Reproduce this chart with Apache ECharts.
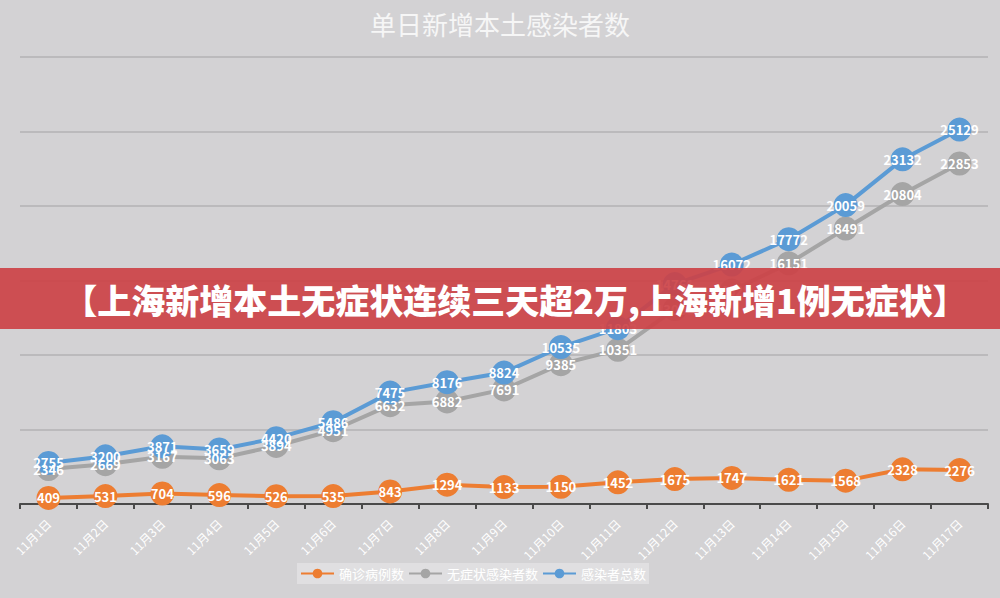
<!DOCTYPE html>
<html>
<head>
<meta charset="utf-8">
<script src="https://cdn.jsdelivr.net/npm/echarts@6/dist/echarts.min.js"></script>
<style>
  html, body { margin: 0; padding: 0; background: #d3d2d4; }
  #chart { width: 1000px; height: 598px; }
</style>
</head>
<body>
<div id="chart"></div>
<script>
const titleText = '单日新增本土感染者数';
const bannerText = '【上海新增本土无症状连续三天超2万,上海新增1例无症状】';
const categories = ['11月1日','11月2日','11月3日','11月4日','11月5日','11月6日','11月7日','11月8日','11月9日','11月10日','11月11日','11月12日','11月13日','11月14日','11月15日','11月16日','11月17日'];
const seriesNames = ['确诊病例数', '无症状感染者数', '感染者总数'];
const confirmed = [409, 531, 704, 596, 526, 535, 843, 1294, 1133, 1150, 1452, 1675, 1747, 1621, 1568, 2328, 2276];
const asymptomatic = [2346, 2669, 3167, 3063, 3894, 4951, 6632, 6882, 7691, 9385, 10351, 13086, 14325, 16151, 18491, 20804, 22853];
const total = [2755, 3200, 3871, 3659, 4420, 5486, 7475, 8176, 8824, 10535, 11803, 14761, 16072, 17772, 20059, 23132, 25129];
const yMax = 30000;
const yInterval = 5000;

const FONT = '"Noto Sans CJK SC", "Noto Sans", sans-serif';
const colors = ['#ED7D31', '#A5A5A5', '#5B9BD5'];

function makeSeries(name, data, color) {
  return {
    name: name,
    type: 'line',
    data: data,
    symbol: 'circle',
    symbolSize: 24,
    itemStyle: { color: color },
    lineStyle: { color: color, width: 4 },
    label: {
      show: true,
      position: 'inside',
      color: '#ffffff',
      fontSize: 13,
      fontWeight: 'bold',
      fontFamily: FONT
    },
    emphasis: { disabled: true },
    animation: false
  };
}

const chart = echarts.init(document.getElementById('chart'), null, { renderer: 'svg' });
chart.setOption({
  backgroundColor: '#d3d2d4',
  color: colors,
  textStyle: { fontFamily: FONT },
  title: {
    text: titleText,
    left: 'center',
    top: 5,
    textStyle: { color: '#f6f6f6', fontSize: 26, fontWeight: 'normal', fontFamily: FONT }
  },
  grid: { left: 20, right: 12, top: 57, bottom: 94, containLabel: false },
  legend: {
    left: 297,
    top: 563,
    itemWidth: 33,
    itemHeight: 12,
    itemGap: 4,
    padding: [4, 3],
    backgroundColor: '#e0dfe1',
    textStyle: { color: '#ffffff', fontSize: 13, fontFamily: FONT },
    data: seriesNames
  },
  xAxis: {
    type: 'category',
    data: categories,
    boundaryGap: true,
    axisLine: { lineStyle: { color: '#4a4a4a', width: 2 } },
    axisTick: { show: true, length: 5, lineStyle: { color: '#4a4a4a', width: 2 } },
    axisLabel: { rotate: 45, color: '#ffffff', fontSize: 12, margin: 17, fontFamily: FONT }
  },
  yAxis: {
    type: 'value',
    min: 0,
    max: yMax,
    interval: yInterval,
    axisLine: { show: false },
    axisTick: { show: false },
    axisLabel: { show: false },
    splitLine: { lineStyle: { color: '#b3b2b4', width: 1.5 } }
  },
  series: [
    makeSeries(seriesNames[0], confirmed, colors[0]),
    makeSeries(seriesNames[1], asymptomatic, colors[1]),
    makeSeries(seriesNames[2], total, colors[2])
  ],
  graphic: [
    {
      type: 'rect',
      z: 100,
      shape: { x: 0, y: 268, width: 1000, height: 61 },
      style: { fill: 'rgba(204, 66, 70, 0.92)' }
    },
    {
      type: 'text',
      z: 101,
      x: 515,
      y: 299,
      style: {
        text: bannerText,
        fill: '#ffffff',
        font: '900 34px ' + FONT,
        textAlign: 'center',
        textVerticalAlign: 'middle'
      }
    }
  ],
  animation: false
});
</script>
</body>
</html>
